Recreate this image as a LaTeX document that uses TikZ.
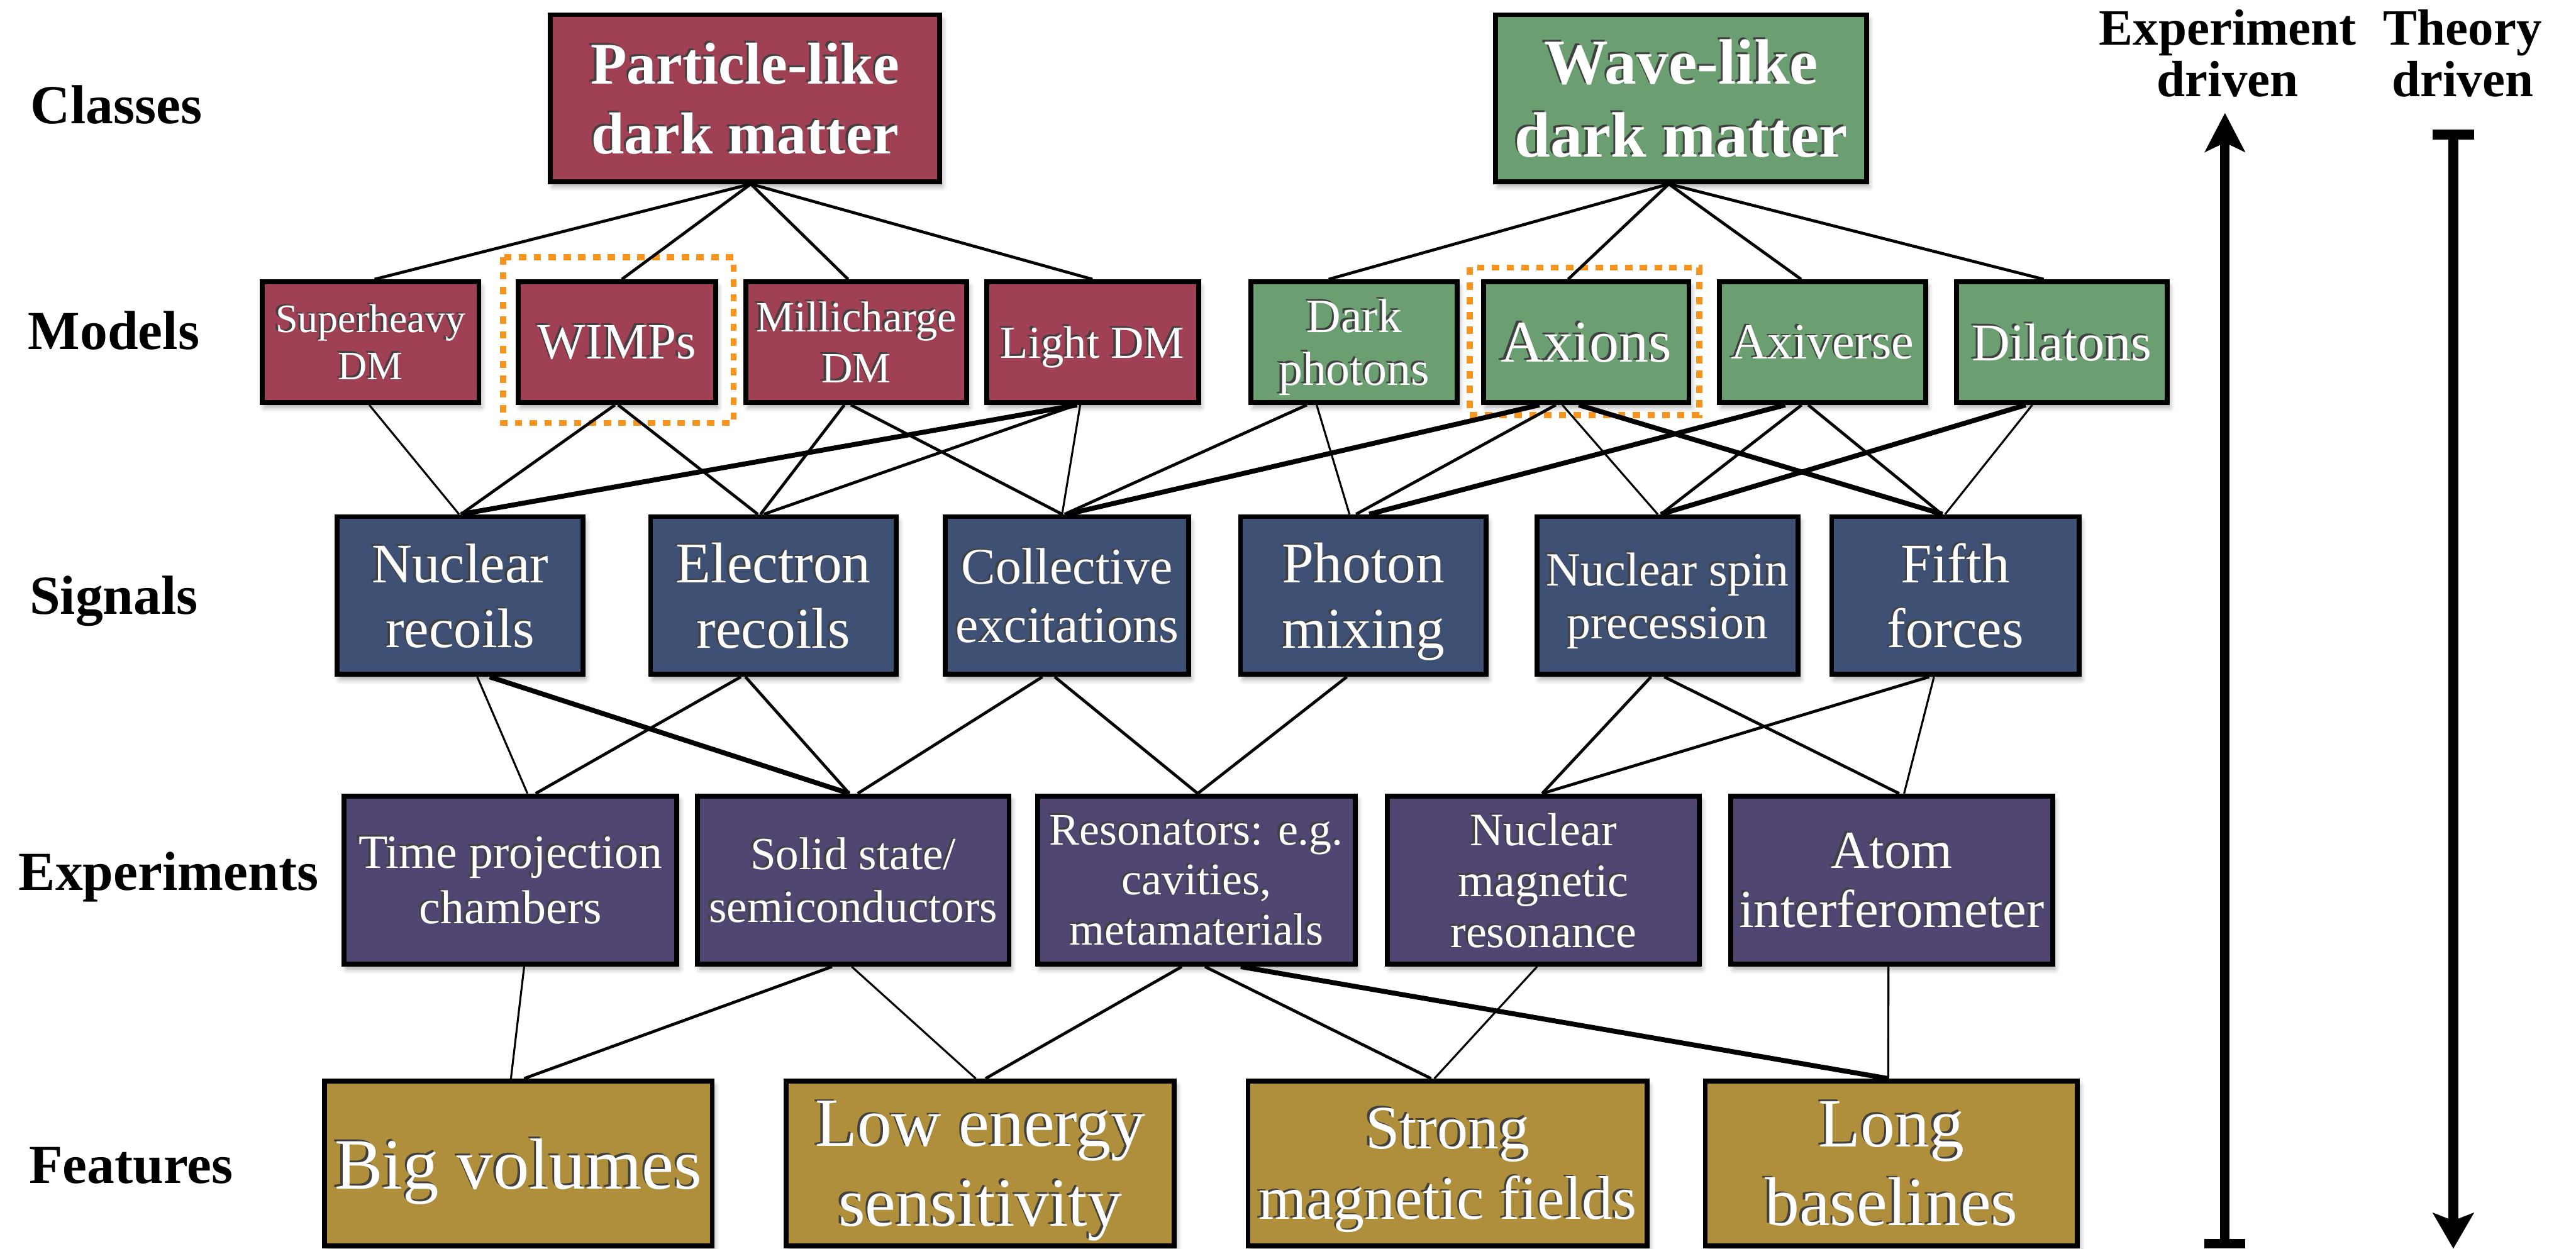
\documentclass[tikz,border=0pt]{standalone}
\usepackage{fontspec}
\setmainfont{Liberation Serif}
\usetikzlibrary{arrows.meta,shadows.blur}

\definecolor{partc}{RGB}{160,64,84}
\definecolor{wavec}{RGB}{107,159,113}
\definecolor{sigc}{RGB}{62,81,116}
\definecolor{expc}{RGB}{81,70,114}
\definecolor{featc}{RGB}{176,143,60}
\definecolor{hilc}{RGB}{247,148,30}

% white text with a dark shadow up-left; depth removed so lines centre on caps
\newcommand\sht[1]{\raisebox{0pt}[\height][0pt]{\rlap{\kern-1.3pt\smash{\raisebox{1pt}{\color{black!75}#1}}}#1}}
\newcommand\cnx[5]{\draw[#1] ([xshift=#3pt]#2.south) -- ([xshift=#5pt]#4.north);}

\begin{document}
\begin{tikzpicture}[x=1pt,y=-1pt,
  box/.style={draw=black, line width=3pt, inner sep=0pt, text=white, align=center,
    rectangle, blur shadow={shadow xshift=1.5pt, shadow yshift=-3pt,
    shadow blur radius=3pt, shadow opacity=35}},
  clsbox/.style={box, fill=#1, minimum height=101.5pt},
  modbox/.style={box, fill=#1, minimum height=73.5pt},
  sigbox/.style={box, fill=sigc, minimum height=96pt},
  expbox/.style={box, fill=expc, minimum height=102.4pt},
  featbox/.style={box, fill=featc, minimum height=100.5pt},
  rowlab/.style={anchor=base west, inner sep=0pt, font=\bfseries\fontsize{33.5}{33.5}\selectfont},
  toplab/.style={anchor=north, inner sep=0pt, align=center, font=\bfseries\fontsize{31}{31.5}\selectfont},
  hil/.style={draw=hilc, line width=3.6pt, dash pattern=on 4.5pt off 4.5pt},
  lthin/.style={line width=1.2pt},
  lmed/.style={line width=1.8pt},
  lthick/.style={line width=3pt}
]
\useasboundingbox (0,0) rectangle (1568,760);

% ---------- row labels ----------
\node[rowlab] (lclasses) at (18.5,75.3) {Classes};
\node[rowlab] (lmodels) at (17,212.7) {Models};
\node[rowlab] (lsignals) at (17.8,373.7) {Signals};
\node[rowlab] (lexps) at (11.2,542) {Experiments};
\node[rowlab] (lfeats) at (17.5,720.4) {Features};

% ---------- classes ----------
\node[clsbox=partc, minimum width=237pt, font=\bfseries\fontsize{36}{42.6}\selectfont]
  (part) at (453.5,59.75) {\sht{Particle-like}\\\sht{dark matter}};
\node[clsbox=wavec, minimum width=225.7pt, font=\bfseries\fontsize{39}{44.4}\selectfont]
  (wave) at (1023.3,59.75) {\sht{Wave-like}\\\sht{dark matter}};

% ---------- models ----------
\node[modbox=partc, minimum width=132pt, font=\fontsize{24.5}{28.5}\selectfont]
  (sheavy) at (225.5,208.25) {\sht{Superheavy}\\\sht{DM}};
\node[modbox=partc, minimum width=120pt, font=\fontsize{31}{31}\selectfont]
  (wimps) at (375.5,208.25) {\sht{WIMPs}};
\node[modbox=partc, minimum width=134.5pt, font=\fontsize{26.3}{31}\selectfont]
  (milli) at (521.25,208.25) {\sht{Millicharge}\\\sht{DM}};
\node[modbox=partc, minimum width=129pt, font=\fontsize{27.8}{28}\selectfont]
  (light) at (665,208.25) {\sht{Light DM}};
\node[modbox=wavec, minimum width=125.5pt, font=\fontsize{29}{32}\selectfont]
  (dphot) at (824.25,208.25) {\sht{Dark}\\\sht{photons}};
\node[modbox=wavec, minimum width=125pt, font=\fontsize{36}{36}\selectfont]
  (axion) at (965.5,208.25) {\sht{Axions}};
\node[modbox=wavec, minimum width=125.7pt, font=\fontsize{30.8}{31}\selectfont]
  (axiv) at (1109.35,208.25) {\sht{Axiverse}};
\node[modbox=wavec, minimum width=128.3pt, font=\fontsize{32.3}{32}\selectfont]
  (dilat) at (1255,208.25) {\sht{Dilatons}};

% ---------- signals ----------
\node[sigbox, minimum width=149.8pt, font=\fontsize{34}{39.5}\selectfont]
  (nrec) at (280.1,362.5) {\sht{Nuclear}\\\sht{recoils}};
\node[sigbox, minimum width=149.5pt, font=\fontsize{35}{39.8}\selectfont]
  (erec) at (470.75,362.5) {\sht{Electron}\\\sht{recoils}};
\node[sigbox, minimum width=148pt, font=\fontsize{31.3}{35.6}\selectfont]
  (coll) at (649.5,362.5) {\sht{Collective}\\\sht{excitations}};
\node[sigbox, minimum width=149.4pt, font=\fontsize{35}{39.8}\selectfont]
  (phot) at (829.8,362.5) {\sht{Photon}\\\sht{mixing}};
\node[sigbox, minimum width=159pt, font=\fontsize{29}{32}\selectfont]
  (nsp) at (1015,362.5) {\sht{Nuclear spin}\\\sht{precession}};
\node[sigbox, minimum width=150.6pt, font=\fontsize{34}{39.5}\selectfont]
  (fifth) at (1190.2,362.5) {\sht{Fifth}\\\sht{forces}};

% ---------- experiments ----------
\node[expbox, minimum width=202.5pt, font=\fontsize{29}{34}\selectfont]
  (tpc) at (310.75,535.7) {\sht{Time projection}\\\sht{chambers}};
\node[expbox, minimum width=189.7pt, font=\fontsize{28}{32}\selectfont]
  (solid) at (519.35,535.7) {\sht{Solid state/}\\\sht{semiconductors}};
\node[expbox, minimum width=193.5pt, font=\fontsize{27.5}{30.5}\selectfont]
  (reson) at (728.25,535.7) {\sht{Resonators: e.g.}\\\sht{cavities,}\\\sht{metamaterials}};
\node[expbox, minimum width=190pt, font=\fontsize{28.3}{31}\selectfont]
  (nmr) at (939.5,535.7) {\sht{Nuclear}\\\sht{magnetic}\\\sht{resonance}};
\node[expbox, minimum width=196pt, font=\fontsize{32.5}{36}\selectfont]
  (atom) at (1151.5,535.7) {\sht{Atom}\\\sht{interferometer}};

% ---------- features ----------
\node[featbox, minimum width=236pt, font=\fontsize{44}{48}\selectfont]
  (big) at (315.5,708.25) {\sht{Big volumes}};
\node[featbox, minimum width=236.3pt, font=\fontsize{42}{48.5}\selectfont]
  (low) at (596.65,708.25) {\sht{Low energy}\\\sht{sensitivity}};
\node[featbox, minimum width=242.8pt, font=\fontsize{37.5}{43}\selectfont]
  (strong) at (881.1,708.25) {\sht{Strong}\\\sht{magnetic fields}};
\node[featbox, minimum width=226.5pt, font=\fontsize{42}{48}\selectfont]
  (long) at (1151.25,708.25) {\sht{Long}\\\sht{baselines}};

% ---------- highlight frames ----------
\draw[hil] ([shift={(-7.8,-13.4)}]wimps.north west) rectangle ([shift={(9.5,10.9)}]wimps.south east);
\draw[hil] ([shift={(-6.9,-7.2)}]axion.north west) rectangle ([shift={(4.8,6.1)}]axion.south east);

% ---------- classes -> models ----------
\cnx{lmed}{part}{3.5}{sheavy}{2.5}
\cnx{lmed}{part}{3.5}{wimps}{3}
\cnx{lmed}{part}{3.5}{milli}{-5}
\cnx{lmed}{part}{3.5}{light}{0}
\cnx{lmed}{wave}{-7.5}{dphot}{-15.5}
\cnx{lmed}{wave}{-7.5}{axion}{-11}
\cnx{lmed}{wave}{-7.5}{axiv}{-13}
\cnx{lmed}{wave}{-7.5}{dilat}{-11}

% ---------- models -> signals ----------
\cnx{lthin}{sheavy}{-0.7}{nrec}{-0.7}
\cnx{lmed}{wimps}{-1.2}{nrec}{0.5}
\cnx{lmed}{wimps}{0.8}{erec}{-9.5}
\cnx{lmed}{milli}{-7.3}{erec}{-7.8}
\cnx{lmed}{milli}{-3.3}{coll}{-3}
\cnx{lthick}{light}{-9.4}{nrec}{0.5}
\cnx{lmed}{light}{-10}{erec}{-5.8}
\cnx{lthin}{light}{-7.5}{coll}{-3}
\cnx{lmed}{dphot}{-28.8}{coll}{-1.5}
\cnx{lthin}{dphot}{-22.8}{phot}{-8.4}
\cnx{lthick}{axion}{-28.5}{coll}{0}
\cnx{lmed}{axion}{-18.5}{phot}{-4.4}
\cnx{lthin}{axion}{-14.5}{nsp}{-6}
\cnx{lthick}{axion}{-4.5}{fifth}{-7.8}
\cnx{lthick}{axiv}{-22.7}{phot}{3.6}
\cnx{lmed}{axiv}{-12.7}{nsp}{-4}
\cnx{lmed}{axiv}{-8.7}{fifth}{-8.2}
\cnx{lthick}{dilat}{-22}{nsp}{-4}
\cnx{lthin}{dilat}{-18}{fifth}{-6.2}

% ---------- signals -> experiments ----------
\cnx{lthin}{nrec}{10.4}{tpc}{10.3}
\cnx{lthick}{nrec}{18}{solid}{-2.4}
\cnx{lmed}{erec}{-19.8}{tpc}{15.3}
\cnx{lmed}{erec}{-17}{solid}{-2.4}
\cnx{lmed}{coll}{-15}{solid}{2.7}
\cnx{lmed}{coll}{-7.5}{reson}{0.8}
\cnx{lmed}{phot}{-10}{reson}{0.8}
\cnx{lmed}{nsp}{-10}{nmr}{-0.8}
\cnx{lmed}{nsp}{-2}{atom}{4.5}
\cnx{lmed}{fifth}{-16}{nmr}{-0.8}
\cnx{lthin}{fifth}{-13}{atom}{7.5}

% ---------- experiments -> features ----------
\cnx{lthin}{tpc}{8.3}{big}{-4.5}
\cnx{lmed}{solid}{-12.9}{big}{3.5}
\cnx{lthin}{solid}{-0.9}{low}{-2.7}
\cnx{lmed}{reson}{-8.9}{low}{3.2}
\cnx{lmed}{reson}{5.2}{strong}{-10}
\cnx{lthick}{reson}{27}{long}{-1.9}
\cnx{lthin}{nmr}{-3.9}{strong}{-8}
\cnx{lthin}{atom}{-2}{long}{-1.9}

% ---------- driven arrows ----------
\node[toplab] (expl) at (1356,5.5) {Experiment\\driven};
\node[toplab] (theol) at (1499,5.5) {Theory\\driven};
\coordinate (ebot) at (1354.3,760);
\coordinate (etop) at (1354.3,68.8);
\coordinate (ttop) at (1493.3,79);
\coordinate (tbot) at (1493.3,760);
\draw[line width=5.7pt, {Bar[width=25pt]}-{Stealth[length=24pt,width=25pt,inset=6pt,line width=0pt 0 0]}] (ebot) -- (etop);
\draw[line width=6pt, {Bar[width=25.5pt]}-{Stealth[length=22pt,width=25.5pt,inset=5pt,line width=0pt 0 0]}] (ttop) -- (tbot);
\end{tikzpicture}
\end{document}
